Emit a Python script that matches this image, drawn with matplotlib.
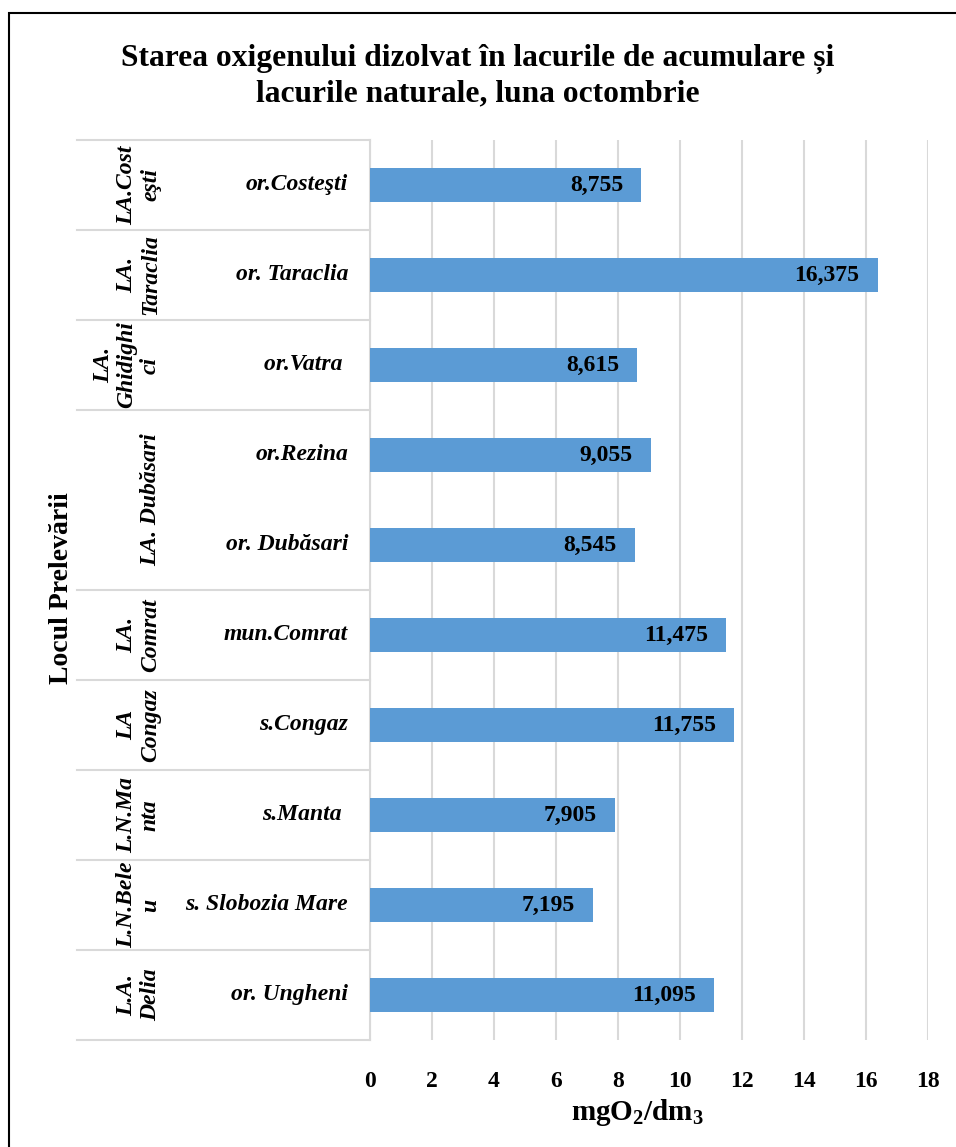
import matplotlib
matplotlib.use("Agg")
import matplotlib.pyplot as plt
import matplotlib.transforms as mtransforms
from matplotlib.patches import Rectangle

plt.rcParams['font.family'] = ['Liberation Serif', 'DejaVu Serif']
plt.rcParams['mathtext.fontset'] = 'custom'
plt.rcParams['mathtext.rm'] = 'Liberation Serif:bold'
plt.rcParams['mathtext.it'] = 'Liberation Serif:bold:italic'
plt.rcParams['mathtext.bf'] = 'Liberation Serif:bold'

### data (top to bottom)
sites = ["or.Costeşti", "or. Taraclia", "or.Vatra ", "or.Rezina", "or. Dubăsari",
         "mun.Comrat", "s.Congaz", "s.Manta ", "s. Slobozia Mare", "or. Ungheni"]
values = [8.755, 16.375, 8.615, 9.055, 8.545, 11.475, 11.755, 7.905, 7.195, 11.095]
groups = ["LA.Cost\neşti", "LA.\nTaraclia", "LA.\nGhidighi\nci", "LA. Dubăsari",
          "LA.\nComrat", "LA\nCongaz", "L.N.Ma\nnta", "L.N.Bele\nu", "L.A.\nDelia"]
group_sizes = [1, 1, 1, 2, 1, 1, 1, 1, 1]
xticks = [0, 2, 4, 6, 8, 10, 12, 14, 16, 18]

W, H = 956, 1147
fig = plt.figure(figsize=(W / 100, H / 100), dpi=100)
ax = fig.add_axes([370 / W, 1 - 1040 / H, 558 / W, 900 / H])

bar_color = '#5b9bd5'
grid_color = '#d9d9d9'
fs = 17

pos = list(range(len(sites)))
ax.barh(pos, values, height=0.367, color=bar_color, zorder=3)
for p, v in zip(pos, values):
    ax.annotate(f"{v:.3f}".replace('.', ','), xy=(v, p), xytext=(-13, 0),
                textcoords='offset points', ha='right', va='center',
                fontsize=fs, fontweight='bold', zorder=4)

ax.set_xlim(0, 18)
ax.set_ylim(len(sites) - 0.5, -0.5)
ax.set_xticks(xticks)
ax.set_xticklabels([str(t) for t in xticks], fontsize=fs, fontweight='bold')
ax.tick_params(axis='x', length=0, pad=22)
ax.set_yticks([])
ax.grid(axis='x', color=grid_color, linewidth=1.5, zorder=0)
for s in ['top', 'right', 'bottom']:
    ax.spines[s].set_visible(False)
ax.spines['left'].set_color(grid_color)
ax.spines['left'].set_linewidth(1.5)

ax.set_xlabel(r'$\mathrm{mgO_2/dm_3}$', fontsize=21, labelpad=4)
ax.xaxis.label.set_x(0.48)

### category table on the left
trans = mtransforms.blended_transform_factory(fig.transFigure, ax.transData)
x_left = 77 / W
x_axis = 370 / W
for p, name in zip(pos, sites):
    ax.text(348 / W, p, name, transform=trans, ha='right', va='center',
            fontsize=fs, fontweight='bold', fontstyle='italic', clip_on=False)

start = -0.5
ax.plot([x_left, x_axis], [start, start], transform=trans, color=grid_color,
        lw=1.5, clip_on=False)
for g, n in zip(groups, group_sizes):
    end = start + n
    mid = (start + end) / 2
    ax.text(161 / W, mid, g, transform=trans, ha='center', va='bottom',
            rotation=90, rotation_mode='anchor', multialignment='center',
            fontsize=fs, fontweight='bold', fontstyle='italic',
            linespacing=1.15, clip_on=False)
    ax.plot([x_left, x_axis], [end, end], transform=trans, color=grid_color,
            lw=1.5, clip_on=False)
    start = end

fig.text(62 / W, 1 - 588 / H, 'Locul Prelevării', rotation=90, ha='center',
         va='center', fontsize=20, fontweight='bold')

### title
fig.text(0.5, 1 - 76 / H,
         'Starea oxigenului dizolvat în lacurile de acumulare și\n'
         'lacurile naturale, luna octombrie',
         ha='center', va='center', fontsize=22.7, fontweight='bold',
         linespacing=1.27)

### chart frame
fig.patches.append(Rectangle((9 / W, -0.05), 1.2, 1 - 13 / H + 0.05,
                             transform=fig.transFigure, fill=False,
                             edgecolor='black', linewidth=1.5))

fig.savefig('out.png', dpi=100)
